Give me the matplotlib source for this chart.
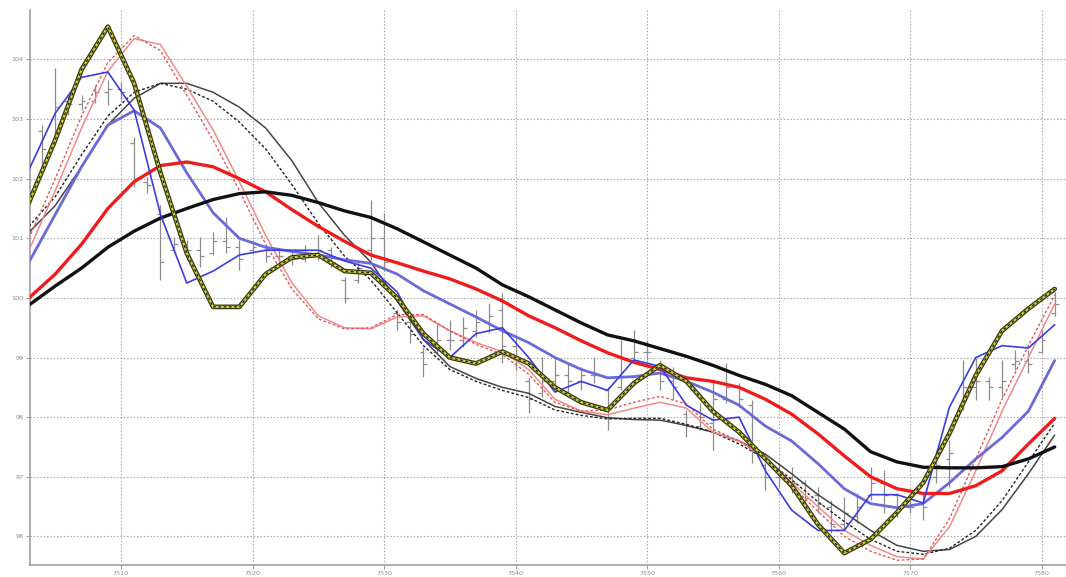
import matplotlib
matplotlib.use("Agg")
import matplotlib.pyplot as plt
import numpy as np

# ---------------- data ----------------
# moving-average lines, sampled every 2 bars
line_x = [7503, 7505, 7507, 7509, 7511, 7513, 7515, 7517, 7519, 7521,
          7523, 7525, 7527, 7529, 7531, 7533, 7535, 7537, 7539, 7541,
          7543, 7545, 7547, 7549, 7551, 7553, 7555, 7557, 7559, 7561,
          7563, 7565, 7567, 7569, 7571, 7573, 7575, 7577, 7579, 7581]

yellow_fast = [101.6, 102.65, 103.83, 104.55, 103.6, 102.1, 100.75, 99.85, 99.85, 100.4,
               100.68, 100.72, 100.45, 100.42, 100.0, 99.4, 99.0, 98.9, 99.1, 98.9,
               98.5, 98.25, 98.12, 98.57, 98.87, 98.6, 98.1, 97.75, 97.3, 96.85,
               96.2, 95.72, 95.95, 96.4, 96.9, 97.73, 98.7, 99.45, 99.82, 100.15]

blue_thin = [102.15, 103.1, 103.7, 103.79, 103.15, 101.4, 100.25, 100.45, 100.72, 100.8,
             100.8, 100.8, 100.62, 100.5, 100.1, 99.3, 99.0, 99.4, 99.5, 99.0,
             98.42, 98.6, 98.45, 98.96, 98.85, 98.2, 97.95, 98.0, 97.1, 96.44,
             96.1, 96.1, 96.7, 96.7, 96.56, 98.17, 99.0, 99.2, 99.16, 99.55]

blue_mid = [100.6, 101.4, 102.2, 102.9, 103.14, 102.85, 102.1, 101.43, 101.0, 100.85,
            100.78, 100.72, 100.64, 100.58, 100.4, 100.12, 99.9, 99.68, 99.45, 99.25,
            99.0, 98.8, 98.66, 98.68, 98.74, 98.6, 98.42, 98.2, 97.85, 97.6,
            97.22, 96.8, 96.55, 96.48, 96.55, 96.9, 97.3, 97.66, 98.1, 98.95]

pink_a = [100.8, 101.8, 102.85, 103.8, 104.35, 104.25, 103.55, 102.82, 101.95, 101.05,
          100.25, 99.7, 99.5, 99.48, 99.68, 99.7, 99.45, 99.25, 99.1, 98.8,
          98.3, 98.1, 98.04, 98.15, 98.25, 98.15, 97.75, 97.6, 97.33, 96.9,
          96.5, 96.1, 95.85, 95.66, 95.62, 96.16, 97.1, 98.1, 99.0, 99.9]

pink_b = [101.0, 102.0, 103.05, 103.95, 104.4, 104.15, 103.4, 102.65, 101.8, 100.9,
          100.15, 99.65, 99.48, 99.5, 99.72, 99.72, 99.45, 99.22, 99.05, 98.72,
          98.25, 98.1, 98.12, 98.25, 98.35, 98.22, 97.8, 97.6, 97.3, 96.85,
          96.42, 96.0, 95.75, 95.6, 95.62, 96.3, 97.3, 98.3, 99.2, 100.05]

black_thin = [101.1, 101.55, 102.2, 102.9, 103.35, 103.6, 103.6, 103.45, 103.2, 102.85,
              102.3, 101.6, 101.05, 100.6, 99.95, 99.3, 98.85, 98.65, 98.5, 98.4,
              98.18, 98.08, 97.99, 97.96, 97.95, 97.86, 97.75, 97.6, 97.38, 97.05,
              96.7, 96.4, 96.1, 95.85, 95.75, 95.78, 96.0, 96.45, 97.05, 97.7]

black_thin_d = [101.2, 101.7, 102.4, 103.05, 103.45, 103.6, 103.5, 103.3, 102.95, 102.5,
                101.9, 101.25, 100.7, 100.3, 99.75, 99.2, 98.8, 98.6, 98.45, 98.33,
                98.12, 98.03, 97.97, 97.98, 97.98, 97.88, 97.75, 97.55, 97.3, 96.95,
                96.58, 96.25, 95.95, 95.75, 95.7, 95.8, 96.1, 96.6, 97.25, 97.9]

red_thick = [100.0, 100.4, 100.9, 101.5, 101.95, 102.22, 102.28, 102.2, 102.0, 101.78,
             101.48, 101.2, 100.95, 100.72, 100.59, 100.45, 100.32, 100.15, 99.95, 99.7,
             99.5, 99.28, 99.08, 98.92, 98.8, 98.66, 98.6, 98.5, 98.3, 98.05,
             97.72, 97.35, 97.0, 96.8, 96.72, 96.72, 96.85, 97.1, 97.55, 97.98]

black_thick = [99.88, 100.2, 100.5, 100.85, 101.12, 101.34, 101.5, 101.65, 101.75, 101.78,
               101.72, 101.6, 101.46, 101.35, 101.16, 100.94, 100.72, 100.5, 100.22, 100.02,
               99.8, 99.58, 99.38, 99.28, 99.15, 99.02, 98.87, 98.7, 98.55, 98.36,
               98.08, 97.8, 97.42, 97.25, 97.16, 97.15, 97.15, 97.17, 97.3, 97.5]

# price bars
bar_x = list(range(7504, 7582))
bar_high = [102.9, 103.86, 103.41, 103.41, 103.57, 103.66, 103.62, 102.70, 102.03, 101.56,
            101.02, 100.97, 101.02, 101.11, 101.36, 100.97, 100.97, 100.89, 100.84, 100.81,
            100.89, 101.06, 100.86, 100.35, 100.64, 101.64, 101.43, 99.80, 99.68, 99.18,
            99.58, 99.63, 99.68, 99.80, 99.92, 100.08, 99.35, 98.67, 99.01, 99.01,
            98.91, 98.84, 99.01, 98.51, 99.30, 99.46, 99.30, 98.96, 98.84, 98.12,
            98.24, 98.62, 98.91, 98.57, 98.29, 97.23, 97.23, 97.16, 96.95, 96.83,
            96.61, 96.66, 96.73, 97.16, 97.11, 96.73, 96.61, 96.73, 97.45, 97.62,
            98.96, 98.99, 98.67, 98.96, 99.13, 99.13, 99.51, 100.1]
bar_low = [102.2, 102.57, 103.07, 103.15, 103.27, 103.24, 103.32, 101.86, 101.76, 100.30,
           100.76, 100.64, 100.52, 100.72, 100.76, 100.47, 100.76, 100.60, 100.60, 100.55,
           100.60, 100.64, 100.52, 99.92, 100.25, 100.64, 100.47, 99.46, 99.24, 98.67,
           99.08, 99.13, 99.18, 99.35, 99.41, 98.91, 98.79, 98.07, 98.34, 98.46,
           98.41, 98.46, 98.57, 97.79, 98.46, 98.91, 98.96, 98.46, 98.29, 97.67,
           97.79, 97.45, 98.24, 98.17, 97.23, 96.78, 96.83, 96.73, 96.49, 96.39,
           96.06, 96.11, 96.22, 96.61, 96.39, 96.33, 96.39, 96.28, 96.90, 96.83,
           98.12, 98.29, 98.29, 98.34, 98.79, 98.74, 99.08, 99.7]
bar_open = [102.8, 102.6, 103.3, 103.25, 103.3, 103.45, 103.5, 102.6, 101.95, 101.4,
            100.8, 100.9, 100.8, 100.75, 100.95, 100.85, 100.8, 100.8, 100.7, 100.7,
            100.65, 100.75, 100.8, 100.3, 100.3, 100.8, 101.0, 99.75, 99.6, 99.1,
            99.1, 99.3, 99.3, 99.45, 99.6, 99.8, 99.2, 98.6, 98.4, 98.6,
            98.7, 98.6, 98.7, 98.45, 98.5, 99.0, 99.1, 98.9, 98.6, 98.05,
            97.85, 97.9, 98.3, 98.5, 98.2, 97.2, 97.0, 97.0, 96.9, 96.7,
            96.5, 96.2, 96.35, 96.7, 96.9, 96.7, 96.5, 96.55, 97.0, 97.3,
            98.2, 98.5, 98.6, 98.5, 98.9, 98.95, 99.1, 99.75]
bar_close = [102.5, 103.2, 103.25, 103.3, 103.45, 103.5, 103.45, 102.0, 101.9, 100.6,
             100.9, 100.8, 100.7, 100.95, 100.85, 100.65, 100.85, 100.7, 100.7, 100.65,
             100.75, 100.8, 100.6, 100.0, 100.5, 101.0, 100.6, 99.6, 99.4, 98.9,
             99.3, 99.3, 99.5, 99.6, 99.7, 99.2, 98.95, 98.3, 98.6, 98.7,
             98.6, 98.7, 98.7, 98.0, 99.0, 99.1, 99.1, 98.6, 98.5, 97.85,
             98.0, 98.3, 98.5, 98.3, 97.5, 97.0, 97.0, 96.9, 96.65, 96.55,
             96.2, 96.4, 96.5, 96.9, 96.7, 96.5, 96.5, 96.5, 97.2, 97.4,
             98.5, 98.6, 98.5, 98.6, 98.95, 98.9, 99.3, 99.9]

x_ticks = [7510, 7520, 7530, 7540, 7550, 7560, 7570, 7580]
y_ticks = [96, 97, 98, 99, 100, 101, 102, 103, 104]

# ---------------- figure ----------------
fig = plt.figure(figsize=(10.66, 5.77), dpi=100)
ax = fig.add_axes([30 / 1066, 12 / 577, 1 - 30 / 1066, 555 / 577])
ax.set_xlim(7503.08, 7581.86)
ax.set_ylim(95.52, 104.83)

ax.set_xticks(x_ticks)
ax.set_yticks(y_ticks)
ax.grid(True, color="#a0a0a0", linestyle=(0, (1.2, 1.8)), linewidth=0.8)
ax.set_axisbelow(True)
ax.tick_params(axis="both", labelsize=4.6, colors="#8a8a8a", length=3, width=0.6,
               pad=1.5)
for s in ("top", "right"):
    ax.spines[s].set_visible(False)
for s in ("left", "bottom"):
    ax.spines[s].set_color("#a0a0a0")
    ax.spines[s].set_linewidth(1.2)

# price bars
bc = "#8c8c8c"
ax.vlines(bar_x, bar_low, bar_high, color=bc, linewidth=0.9, zorder=2)
bx = np.array(bar_x, dtype=float)
ax.hlines(bar_open, bx - 0.3, bx, color=bc, linewidth=0.9, zorder=2)
ax.hlines(bar_close, bx, bx + 0.3, color=bc, linewidth=0.9, zorder=2)

# lines
kw = dict(solid_joinstyle="round", solid_capstyle="round")
ax.plot(line_x, black_thin, color="#444444", lw=1.1, zorder=3, **kw)
ax.plot(line_x, black_thin_d, color="#222222", lw=1.0, ls=(0, (2, 1.5)), zorder=3)
ax.plot(line_x, pink_a, color="#f08a8a", lw=1.1, zorder=3, **kw)
ax.plot(line_x, pink_b, color="#e25a5a", lw=1.0, ls=(0, (2, 1.5)), zorder=3)
ax.plot(line_x, blue_mid, color="#6a6ad8", lw=2.0, zorder=4, **kw)
ax.plot(line_x, red_thick, color="#ee1c1c", lw=2.4, zorder=5, **kw)
ax.plot(line_x, black_thick, color="#111111", lw=2.4, zorder=5, **kw)
ax.plot(line_x, blue_thin, color="#3c3ce0", lw=1.2, zorder=6, **kw)
ax.plot(line_x, yellow_fast, color="#3a3a18", lw=3.4, zorder=7, **kw)
ax.plot(line_x, yellow_fast, color="#d6d838", lw=1.5, zorder=8, **kw)
ax.plot(line_x, yellow_fast, color="#1a1a1a", lw=0.9, ls=(0, (2.2, 2.0)), zorder=9)

fig.savefig("out.png", dpi=100)
